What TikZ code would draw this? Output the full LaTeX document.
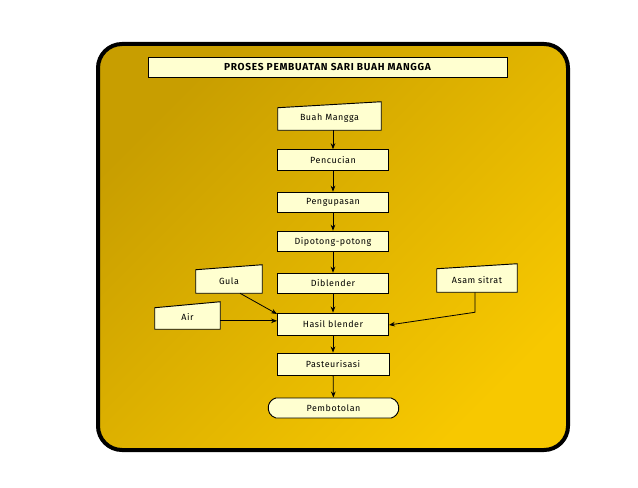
\documentclass[tikz,border=0pt]{standalone}
\usepackage{fontspec}
\setmainfont{Fira Sans}
\newfontfamily\lblfont[LetterSpace=6]{Fira Sans}
\newfontfamily\ttlfont[LetterSpace=7]{Fira Sans}
\usetikzlibrary{arrows.meta,shapes.misc,calc}
\definecolor{goldA}{RGB}{200,158,0}
\definecolor{goldB}{RGB}{247,200,0}
\definecolor{boxfill}{RGB}{255,255,208}
\newcommand{\lbl}{\lblfont\fontsize{6.7}{8}\selectfont}
\tikzset{
  box/.style={draw, fill=boxfill, line width=0.7pt, inner sep=0pt, font=\lbl},
  mi/.style={inner sep=0pt, font=\lbl},
  mishape/.style={draw, fill=boxfill, line width=0.7pt},
  term/.style={draw, fill=boxfill, line width=0.7pt, rounded rectangle, rounded rectangle arc length=150, inner sep=0pt, font=\lbl},
  arr/.style={-{Stealth[length=4.5pt,width=3.5pt]}, line width=0.6pt}
}
\begin{document}
\begin{tikzpicture}[x=0.75pt,y=-0.75pt]
\useasboundingbox (0,0) rectangle (638,488);
\shade[shading=axis, left color=goldA, right color=goldB, shading angle=45, rounded corners=18pt]
  (98,44) rectangle (568,450);
\draw[line width=3pt, rounded corners=18pt] (98,44) rectangle (568,450);
% title
\node[box, minimum width=269.25pt, minimum height=15pt, font=\ttlfont\fontsize{7.6}{9}\selectfont\bfseries] (title) at (327.5,67) {PROSES PEMBUATAN SARI BUAH MANGGA};
% manual inputs
\node[mi, minimum width=77.25pt, minimum height=21pt] (buah) at (329.5,116) {};
\path[mishape] (buah.south west) -- (buah.south east) -- (buah.north east) -- ($(buah.north west)+(0,6)$) -- cycle;
\node[font=\lbl] at ($(buah.center)+(0,2)$) {Buah Mangga};
\node[mi, minimum width=49.5pt, minimum height=21pt] (gula) at (229,279) {};
\path[mishape] (gula.south west) -- (gula.south east) -- (gula.north east) -- ($(gula.north west)+(0,5)$) -- cycle;
\node[font=\lbl] at ($(gula.center)+(0,2)$) {Gula};
\node[mi, minimum width=48.75pt, minimum height=20.25pt] (air) at (187.5,315.5) {};
\path[mishape] (air.south west) -- (air.south east) -- (air.north east) -- ($(air.north west)+(0,6)$) -- cycle;
\node[font=\lbl] at ($(air.center)+(0,2)$) {Air};
\node[mi, minimum width=60pt, minimum height=21pt] (asam) at (477,278) {};
\path[mishape] (asam.south west) -- (asam.south east) -- (asam.north east) -- ($(asam.north west)+(0,5)$) -- cycle;
\node[font=\lbl] at ($(asam.center)+(0,2)$) {Asam sitrat};
% process boxes
\node[box, minimum width=83.25pt, minimum height=15.5pt] (cuci) at (333,160) {Pencucian};
\node[box, minimum width=83.25pt, minimum height=15.5pt] (kupas) at (333,202.5) {Pengupasan};
\node[box, minimum width=83.25pt, minimum height=15.5pt] (potong) at (333,241.5) {Dipotong-potong};
\node[box, minimum width=83.25pt, minimum height=15.5pt] (blender) at (333,283.5) {Diblender};
\node[box, minimum width=83.25pt, minimum height=16.5pt] (hasil) at (333,324) {Hasil blender};
\node[box, minimum width=84pt, minimum height=16.5pt] (pasteur) at (333,364) {Pasteurisasi};
\node[term, minimum width=98pt, minimum height=15pt] (botol) at (333.5,408) {Pembotolan};
% arrows
\draw[arr] (buah.south -| cuci.north) -- (cuci.north);
\draw[arr] (cuci) -- (kupas);
\draw[arr] (kupas) -- (potong);
\draw[arr] (potong) -- (blender);
\draw[arr] (blender) -- (hasil);
\draw[arr] (hasil) -- (pasteur);
\draw[arr] (pasteur) -- (botol);
\draw[arr] ([xshift=8.25pt]gula.south) -- ([yshift=7.5pt]hasil.west);
\draw[arr] ([yshift=-4pt]air.east) -- ([yshift=-4pt]air.east -| hasil.west);
\draw[arr] ([xshift=-1.5pt]asam.south) -- ++(0,-15pt) -- ([yshift=-0.75pt]hasil.east);
\end{tikzpicture}
\end{document}
